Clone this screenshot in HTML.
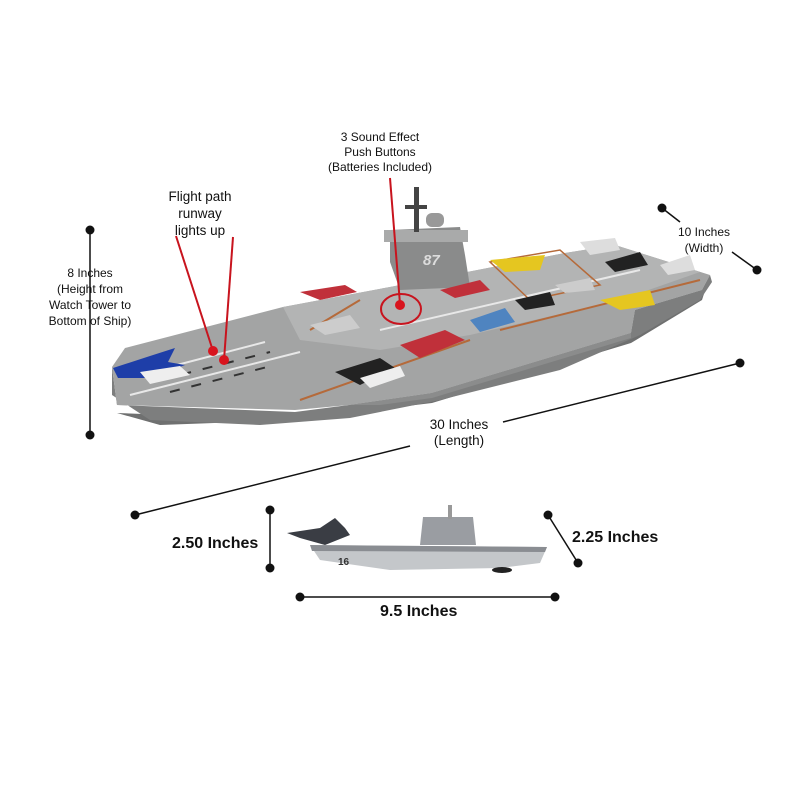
<!DOCTYPE html>
<html><head><meta charset="utf-8"><style>
body{margin:0;background:#fff;}
svg{display:block}
text{font-family:"Liberation Sans",Arial,sans-serif;fill:#111}
</style></head><body>
<svg width="800" height="800" viewBox="0 0 800 800" xmlns="http://www.w3.org/2000/svg">
<rect width="800" height="800" fill="#fff"/>
<polygon points="112,367 117,413 160,425 295,420 349,413 432,403 631,343 702,300 710,275 702,290 635,310 631,333 432,393 349,413 295,420 117,413" fill="#6f7070"/>
<polygon points="112,367 112,395 150,420 260,425 350,418 440,400 560,370 640,335 700,300 712,282 710,275 702,290 635,310 631,333 432,393 349,405 295,412 117,405" fill="#7d7e7e"/>
<polygon points="112,367 125,348 283,307 390,287 565,253 615,245 710,275 702,290 635,310 631,333 432,393 349,405 295,410 117,405" fill="#a3a4a4"/>
<polygon points="283,307 390,287 565,253 615,245 700,272 620,300 470,335 380,350 300,340" fill="#b3b4b4"/>
<polygon points="432,393 349,405 380,405 432,398 631,338 631,333" fill="#8b8c8c"/>
<g stroke="#e8e8e8" stroke-width="2">
<line x1="130" y1="395" x2="300" y2="352"/>
<line x1="150" y1="372" x2="265" y2="342"/>
<line x1="380" y1="330" x2="640" y2="270"/>
</g>
<g stroke="#333" stroke-width="2" stroke-dasharray="10 12">
<line x1="160" y1="380" x2="270" y2="352"/>
<line x1="170" y1="392" x2="275" y2="365"/>
</g>
<g stroke="#b56a3a" stroke-width="2">
<line x1="300" y1="400" x2="470" y2="340"/>
<line x1="500" y1="330" x2="700" y2="280"/>
<line x1="310" y1="330" x2="360" y2="300"/>
</g>
<polygon points="490,262 560,250 600,285 530,300" fill="none" stroke="#b56a3a" stroke-width="1.5"/>
<polygon points="390,230 460,227 465,255 470,287 400,290 390,262" fill="#8a8b8b"/>
<rect x="384" y="230" width="84" height="12" fill="#a9aaaa"/>
<rect x="414" y="187" width="5" height="45" fill="#444"/>
<rect x="405" y="205" width="22" height="4" fill="#444"/>
<rect x="426" y="213" width="18" height="14" rx="6" fill="#999"/>
<text x="423" y="265" font-size="15" font-weight="bold" style="fill:#dcdcdc" font-style="italic">87</text>
<g>
<polygon points="113,368 150,356 175,348 168,362 185,365 150,378 118,378" fill="#1e3ea8"/>
<polygon points="140,372 180,366 190,375 150,384" fill="#eee"/>
<polygon points="300,292 345,285 357,292 320,300" fill="#c0303a"/>
<polygon points="440,290 480,280 490,290 455,298" fill="#c0303a"/>
<polygon points="400,345 445,330 465,340 420,358" fill="#c0303a"/>
<polygon points="490,260 545,255 540,270 505,272" fill="#e5c620"/>
<polygon points="600,300 650,290 655,305 620,310" fill="#e5c620"/>
<polygon points="470,320 505,308 515,322 480,332" fill="#4f84c0"/>
<polygon points="335,372 380,358 395,368 360,385" fill="#222"/>
<polygon points="360,378 400,366 405,376 370,388" fill="#eee"/>
<polygon points="515,300 550,292 555,305 525,310" fill="#222"/>
<polygon points="605,262 640,252 648,265 615,272" fill="#222"/>
<polygon points="310,325 350,315 360,328 325,335" fill="#ccc"/>
<polygon points="580,242 615,238 620,250 590,255" fill="#ddd"/>
<polygon points="660,265 690,255 695,270 668,275" fill="#ddd"/>
<polygon points="555,285 590,278 595,290 565,293" fill="#ccc"/>
</g>
<line x1="176" y1="236" x2="213" y2="351" stroke="#c8141e" stroke-width="2"/>
<line x1="233" y1="237" x2="224" y2="360" stroke="#c8141e" stroke-width="2"/>
<circle cx="213" cy="351" r="5" fill="#d8141e"/>
<circle cx="224" cy="360" r="5" fill="#d8141e"/>
<line x1="390" y1="178" x2="400" y2="304" stroke="#c8141e" stroke-width="2"/>
<circle cx="400" cy="305" r="5" fill="#d8141e"/>
<ellipse cx="401" cy="309" rx="20" ry="15" fill="none" stroke="#c8141e" stroke-width="2"/>
<g stroke="#111" stroke-width="1.5">
<line x1="90" y1="230" x2="90" y2="435"/>
<line x1="135" y1="515" x2="410" y2="446"/>
<line x1="503" y1="422" x2="740" y2="363"/>
<line x1="662" y1="208" x2="680" y2="222"/>
<line x1="732" y1="252" x2="757" y2="270"/>
<line x1="270" y1="510" x2="270" y2="568"/>
<line x1="300" y1="597" x2="555" y2="597"/>
<line x1="548" y1="515" x2="578" y2="563"/>
</g>
<g fill="#111">
<circle cx="90" cy="230" r="4.5"/><circle cx="90" cy="435" r="4.5"/>
<circle cx="135" cy="515" r="4.5"/><circle cx="740" cy="363" r="4.5"/>
<circle cx="662" cy="208" r="4.5"/><circle cx="757" cy="270" r="4.5"/>
<circle cx="270" cy="510" r="4.5"/><circle cx="270" cy="568" r="4.5"/>
<circle cx="300" cy="597" r="4.5"/><circle cx="555" cy="597" r="4.5"/>
<circle cx="548" cy="515" r="4.5"/><circle cx="578" cy="563" r="4.5"/>
</g>
<polygon points="310,545 547,547 540,563 500,568 390,570 320,560" fill="#c4c7ca"/>
<polygon points="310,545 547,547 545,552 312,551" fill="#8a8d92"/>
<polygon points="423,517 473,517 476,545 420,545" fill="#9a9da2"/>
<rect x="448" y="505" width="4" height="14" fill="#999"/>
<polygon points="287,533 320,528 335,518 345,528 350,535 325,545 300,538" fill="#3a3d44"/>
<text x="338" y="565" font-size="10" font-weight="bold" style="fill:#333">16</text>
<ellipse cx="502" cy="570" rx="10" ry="3" fill="#222"/>
<g font-size="12" text-anchor="middle">
<text x="380" y="141">3 Sound Effect</text>
<text x="380" y="156">Push Buttons</text>
<text x="380" y="171">(Batteries Included)</text>
<text x="90" y="277">8 Inches</text>
<text x="90" y="293">(Height from</text>
<text x="90" y="309">Watch Tower to</text>
<text x="90" y="325">Bottom of Ship)</text>
<text x="704" y="236">10 Inches</text>
<text x="704" y="252">(Width)</text>
</g>
<g font-size="13.5" text-anchor="middle">
<text x="200" y="201">Flight path</text>
<text x="200" y="218">runway</text>
<text x="200" y="235">lights up</text>
<text x="459" y="429">30 Inches</text>
<text x="459" y="445">(Length)</text>
</g>
<g font-size="16" font-weight="bold">
<text x="172" y="548">2.50 Inches</text>
<text x="572" y="542">2.25 Inches</text>
<text x="380" y="616">9.5 Inches</text>
</g>
</svg>
</body></html>
